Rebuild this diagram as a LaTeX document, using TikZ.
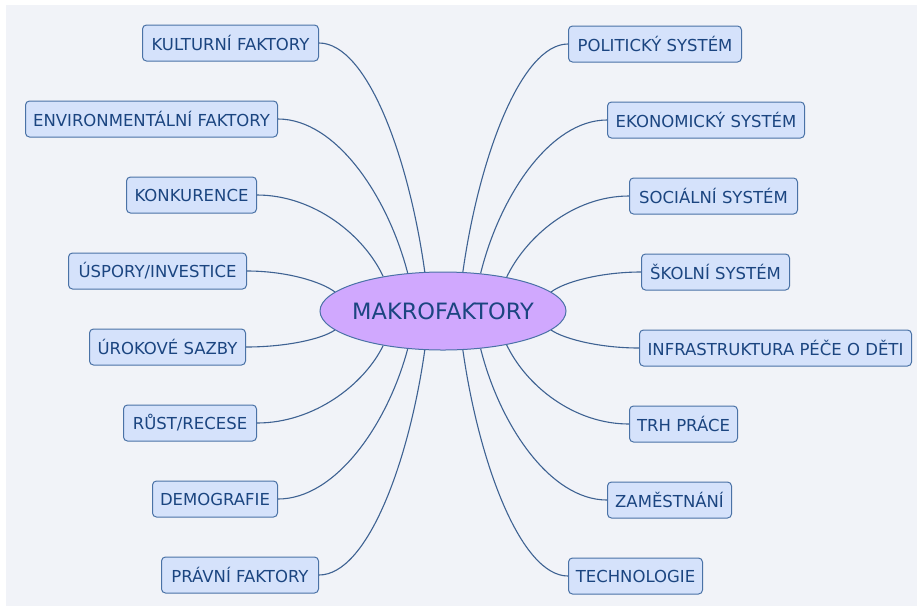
\documentclass[tikz,border=0pt]{standalone}
\usepackage{fontspec}
\setmainfont{DejaVu Sans}
\usetikzlibrary{shapes.geometric}
\definecolor{bgc}{HTML}{F1F3F8}
\definecolor{boxfill}{HTML}{D5E2FB}
\definecolor{boxline}{HTML}{4A72A6}
\definecolor{txt}{HTML}{1B4580}
\definecolor{ellfill}{HTML}{D0A8FE}
\definecolor{linec}{HTML}{3E6292}
\tikzset{
  topic/.style={draw=boxline, fill=boxfill, rounded corners=4pt, line width=1pt,
    minimum height=36pt, inner xsep=0pt, inner ysep=0pt, text=txt,
    font=\fontsize{16.5}{19}\selectfont},
  central/.style={ellipse, draw=boxline, fill=ellfill, line width=1pt,
    minimum width=246pt, minimum height=78pt, inner xsep=-30pt, inner ysep=0pt, text=txt,
    font=\fontsize{22.5}{26}\selectfont},
  conn/.style={draw=linec, line width=1.1pt}
}
\begin{document}
\begin{tikzpicture}[x=1pt,y=1pt]
\useasboundingbox (0,0) rectangle (917,-606);
\fill[white] (0,0) rectangle (917,-606);
\fill[bgc] (6,-5) rectangle (917,-606);

\node[central] (m) at (443,-311) {MAKROFAKTORY};

% left side
\node[topic, anchor=east, minimum width=176pt] (l1) at (319,-43) {KULTURNÍ FAKTORY};
\node[topic, anchor=east, minimum width=252pt] (l2) at (278,-119) {ENVIRONMENTÁLNÍ FAKTORY};
\node[topic, anchor=east, minimum width=130pt] (l3) at (257,-195) {KONKURENCE};
\node[topic, anchor=east, minimum width=178pt] (l4) at (247,-271) {ÚSPORY/INVESTICE};
\node[topic, anchor=east, minimum width=156pt] (l5) at (246,-347) {ÚROKOVÉ SAZBY};
\node[topic, anchor=east, minimum width=133pt] (l6) at (257,-423) {RŮST/RECESE};
\node[topic, anchor=east, minimum width=125pt] (l7) at (278,-499) {DEMOGRAFIE};
\node[topic, anchor=east, minimum width=157pt] (l8) at (319,-575) {PRÁVNÍ FAKTORY};

% right side
\node[topic, anchor=west, minimum width=173pt] (r1) at (568,-44) {POLITICKÝ SYSTÉM};
\node[topic, anchor=west, minimum width=197pt] (r2) at (607,-120) {EKONOMICKÝ SYSTÉM};
\node[topic, anchor=west, minimum width=168pt] (r3) at (629,-196) {SOCIÁLNÍ SYSTÉM};
\node[topic, anchor=west, minimum width=148pt] (r4) at (641,-272) {ŠKOLNÍ SYSTÉM};
\node[topic, anchor=west, minimum width=272pt] (r5) at (639,-348) {INFRASTRUKTURA PÉČE O DĚTI};
\node[topic, anchor=west, minimum width=108pt] (r6) at (629,-424) {TRH PRÁCE};
\node[topic, anchor=west, minimum width=124pt] (r7) at (607,-500) {ZAMĚSTNÁNÍ};
\node[topic, anchor=west, minimum width=134pt] (r8) at (568,-576) {TECHNOLOGIE};

% connectors left
\draw[conn] (l1.east) .. controls +(48,0) and +(-16,115) .. (m.115);
\draw[conn] (l2.east) .. controls +(58,0) and +(-20,77) .. (m.133);
\draw[conn] (l3.east) .. controls +(57,0) and +(-19,41) .. (m.150);
\draw[conn] (l4.east) .. controls +(40,0) and +(-13,10) .. (m.170);
\draw[conn] (l5.east) .. controls +(40,0) and +(-13,-9) .. (m.190);
\draw[conn] (l6.east) .. controls +(57,0) and +(-19,-39) .. (m.210);
\draw[conn] (l7.east) .. controls +(58,0) and +(-20,-75) .. (m.227);
\draw[conn] (l8.east) .. controls +(48,0) and +(-16,-113) .. (m.245);

% connectors right
\draw[conn] (r1.west) .. controls +(-47,0) and +(16,114) .. (m.63);
\draw[conn] (r2.west) .. controls +(-57,0) and +(19,77) .. (m.45);
\draw[conn] (r3.west) .. controls +(-56,0) and +(19,40) .. (m.28);
\draw[conn] (r4.west) .. controls +(-40,0) and +(13,10) .. (m.10);
\draw[conn] (r5.west) .. controls +(-39,0) and +(13,-9) .. (m.-10);
\draw[conn] (r6.west) .. controls +(-56,0) and +(19,-40) .. (m.-28);
\draw[conn] (r7.west) .. controls +(-57,0) and +(19,-76) .. (m.-45);
\draw[conn] (r8.west) .. controls +(-47,0) and +(16,-113) .. (m.-63);
\end{tikzpicture}
\end{document}
